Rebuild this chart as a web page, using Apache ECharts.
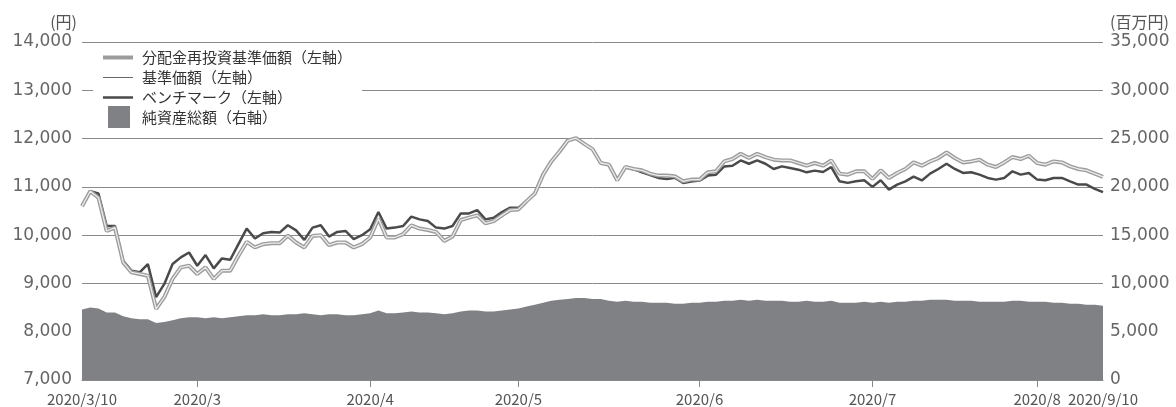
<!DOCTYPE html>
<html lang="ja">
<head>
<meta charset="utf-8">
<title>基準価額の推移</title>
<script src="https://cdn.jsdelivr.net/npm/echarts@6/dist/echarts.min.js"></script>
<style>
  html, body { margin: 0; padding: 0; background: #fff; }
  #chart { width: 1176px; height: 407px; }
</style>
</head>
<body>
<div id="chart"></div>
<script>
// 目盛りラベル（横軸）と位置
const tickLabels = ['2020/3/10', '2020/3', '2020/4', '2020/5', '2020/6', '2020/7', '2020/8', '2020/9/10']
const tickIndex = [0, 14, 35, 53, 75, 96, 116, 124]
const monthTicks = [14, 35, 53, 75, 96, 116]

// 分配金再投資基準価額（円）= 基準価額
const reinvestNav = [
  10600, 10910, 10774, 10086, 10157, 9436, 9230, 9196, 9160, 8475,
  8716, 9093, 9333, 9366, 9196, 9333, 9093, 9264, 9264, 9572,
  9860, 9745, 9813, 9834, 9834, 9990, 9848, 9745, 9984, 9998,
  9792, 9848, 9848, 9745, 9813, 9951, 10342, 9951, 9951, 10019,
  10204, 10136, 10107, 10066, 9881, 9971, 10313, 10362, 10409, 10245,
  10292, 10409, 10520, 10533, 10704, 10862, 11253, 11527, 11733, 11959,
  12008, 11891, 11782, 11494, 11459, 11136, 11412, 11370, 11342, 11274,
  11233, 11233, 11219, 11115, 11150, 11150, 11301, 11322, 11527, 11576,
  11685, 11597, 11685, 11617, 11562, 11547, 11547, 11494, 11438, 11494,
  11438, 11547, 11274, 11253, 11322, 11322, 11165, 11342, 11185, 11288,
  11370, 11506, 11440, 11527, 11597, 11712, 11597, 11506, 11527, 11562,
  11459, 11411, 11506, 11617, 11576, 11644, 11494, 11459, 11527, 11506,
  11424, 11370, 11342, 11274, 11205
]
const nav = reinvestNav.slice()

// ベンチマーク（円）
const benchmark = [
  10620, 10910, 10862, 10190, 10190, 9470, 9265, 9230, 9401, 8716,
  8990, 9401, 9539, 9640, 9366, 9587, 9311, 9518, 9490, 9813,
  10136, 9930, 10039, 10066, 10053, 10204, 10100, 9901, 10156, 10204,
  9971, 10066, 10087, 9916, 9998, 10121, 10478, 10136, 10156, 10190,
  10383, 10327, 10292, 10156, 10136, 10190, 10450, 10450, 10518, 10327,
  10362, 10478, 10568, 10568, 10704, 10862, 11253, 11527, 11733, 11959,
  12008, 11891, 11782, 11494, 11459, 11136, 11412, 11370, 11300, 11245,
  11185, 11165, 11190, 11080, 11110, 11130, 11233, 11253, 11424, 11438,
  11547, 11479, 11547, 11479, 11370, 11424, 11390, 11356, 11301, 11336,
  11308, 11411, 11115, 11082, 11115, 11136, 11000, 11136, 10944, 11047,
  11115, 11212, 11133, 11274, 11370, 11479, 11370, 11288, 11301, 11253,
  11185, 11150, 11185, 11322, 11253, 11288, 11150, 11136, 11185, 11185,
  11115, 11047, 11047, 10959, 10889
]

// 純資産総額（百万円）
const netAssets = [
  7300, 7500, 7400, 7000, 7000, 6600, 6400, 6300, 6300, 5900,
  6000, 6200, 6400, 6500, 6500, 6400, 6500, 6400, 6500, 6600,
  6700, 6700, 6800, 6700, 6700, 6800, 6800, 6900, 6800, 6700,
  6800, 6800, 6700, 6700, 6800, 6900, 7200, 6900, 6900, 7000,
  7100, 7000, 7000, 6900, 6800, 6900, 7100, 7200, 7200, 7100,
  7100, 7200, 7300, 7400, 7600, 7800, 8000, 8200, 8300, 8400,
  8500, 8500, 8400, 8400, 8200, 8100, 8200, 8100, 8100, 8000,
  8000, 8000, 7900, 7900, 8000, 8000, 8100, 8100, 8200, 8200,
  8300, 8200, 8300, 8200, 8200, 8200, 8100, 8100, 8200, 8100,
  8100, 8200, 8000, 8000, 8000, 8100, 8000, 8100, 8000, 8100,
  8100, 8200, 8200, 8300, 8300, 8300, 8200, 8200, 8200, 8100,
  8100, 8100, 8100, 8200, 8200, 8100, 8100, 8100, 8000, 8000,
  7900, 7900, 7800, 7800, 7700
]

const categories = netAssets.map((v, i) => String(i))
const font = '"Noto Sans CJK JP", "Noto Sans", sans-serif'
const numFont = '"DejaVu Sans", sans-serif'
const fmt = v => String(v).replace(/\B(?=(\d{3})+(?!\d))/g, ',')

const chart = echarts.init(document.getElementById('chart'))
const option = {
  animation: false,
  textStyle: { fontFamily: font },
  grid: { left: 82, right: 73, top: 42, bottom: 25, containLabel: false },
  legend: [
    {
      left: 93,
      top: 46,
      orient: 'vertical',
      padding: [4, 10, 4, 10],
      backgroundColor: '#fff',
      itemWidth: 30,
      itemHeight: 14,
      itemGap: 5,
      selectedMode: false,
      textStyle: { fontFamily: font, fontSize: 15, color: '#333', padding: [0, 0, 0, 4] },
      data: [
        { name: '分配金再投資基準価額（左軸）', icon: 'path://M0,0H30V4H0Z', itemStyle: { color: '#9c9c9c' } },
        { name: '基準価額（左軸）', icon: 'path://M0,0H30V1H0Z', itemStyle: { color: '#666' } },
        { name: 'ベンチマーク（左軸）', icon: 'path://M0,0H30V2.5H0Z', itemStyle: { color: '#4a4a4a' } }
      ]
    },
    {
      left: 108,
      top: 106,
      padding: 0,
      itemWidth: 22,
      itemHeight: 22,
      selectedMode: false,
      textStyle: { fontFamily: font, fontSize: 15, color: '#333', padding: [0, 0, 0, 7] },
      data: [{ name: '純資産総額（右軸）', icon: 'rect' }]
    }
  ],
  xAxis: {
    type: 'category',
    boundaryGap: false,
    data: categories,
    axisLine: { show: true, lineStyle: { color: '#888' } },
    axisTick: {
      show: true,
      length: 7,
      lineStyle: { color: '#888' },
      interval: (i) => monthTicks.includes(i)
    },
    axisLabel: {
      interval: (i) => tickIndex.includes(i),
      margin: 12,
      fontSize: 15,
      color: '#555',
      fontFamily: font,
      formatter: (v, i) => tickLabels[tickIndex.indexOf(i)] || ''
    },
    splitLine: { show: false }
  },
  yAxis: [
    {
      type: 'value',
      min: 7000,
      max: 14000,
      interval: 1000,
      name: '(円)',
      nameLocation: 'end',
      nameGap: 12,
      nameTextStyle: { fontFamily: font, fontSize: 16, color: '#555', align: 'right', padding: [0, 5, 0, 0] },
      axisLine: { show: false },
      axisTick: { show: false },
      axisLabel: { margin: 10, fontSize: 17, color: '#666', fontFamily: numFont, formatter: fmt },
      splitLine: { show: true, lineStyle: { color: '#8a8a8a', width: 1 } }
    },
    {
      type: 'value',
      min: 0,
      max: 35000,
      interval: 5000,
      position: 'right',
      name: '(百万円)',
      nameLocation: 'end',
      nameGap: 12,
      nameTextStyle: { fontFamily: font, fontSize: 16, color: '#555', align: 'left', padding: [0, 0, 0, 7] },
      axisLine: { show: false },
      axisTick: { show: false },
      axisLabel: { margin: 7, fontSize: 17, color: '#666', fontFamily: numFont, formatter: fmt },
      splitLine: { show: false }
    }
  ],
  series: [
    {
      name: '純資産総額（右軸）',
      type: 'line',
      yAxisIndex: 1,
      data: netAssets,
      symbol: 'none',
      lineStyle: { width: 0, color: '#808185' },
      itemStyle: { color: '#808185' },
      areaStyle: { color: '#808185', opacity: 1 },
      z: 1
    },
    {
      name: 'ベンチマーク（左軸）',
      type: 'line',
      data: benchmark,
      symbol: 'none',
      lineStyle: { width: 2.5, color: '#4a4a4a' },
      itemStyle: { color: '#4a4a4a' },
      z: 2
    },
    {
      name: '分配金再投資基準価額（左軸）',
      type: 'line',
      data: reinvestNav,
      symbol: 'none',
      lineStyle: { width: 4, color: '#9c9c9c' },
      itemStyle: { color: '#9c9c9c' },
      z: 3
    },
    {
      name: '基準価額（左軸）',
      type: 'line',
      data: nav,
      symbol: 'none',
      lineStyle: { width: 1.3, color: '#ececec' },
      itemStyle: { color: '#666' },
      z: 4
    }
  ]
}
chart.setOption(option)
</script>
</body>
</html>
